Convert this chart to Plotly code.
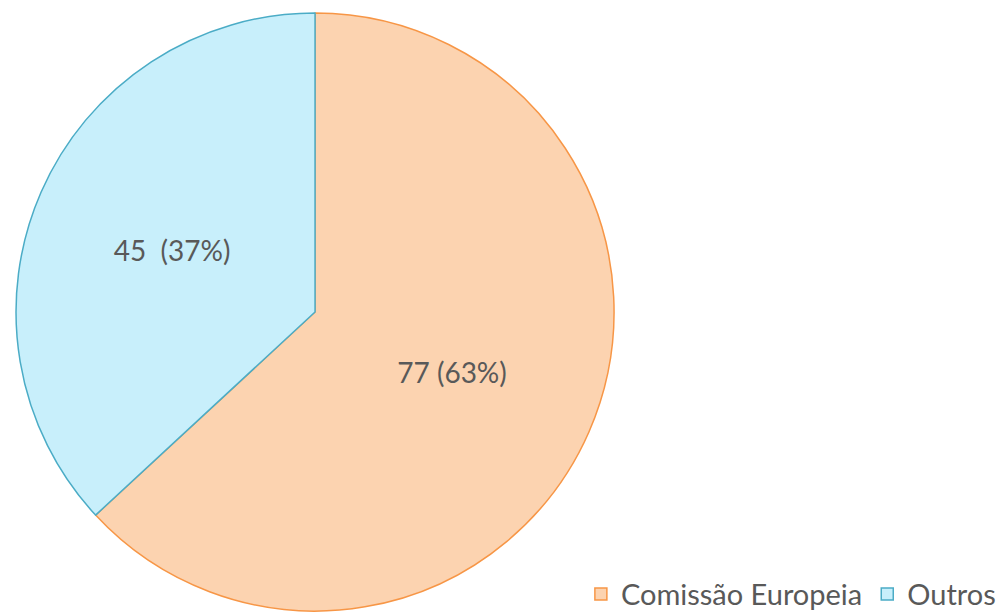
import plotly.graph_objects as go

labels = ["Comissão Europeia", "Outros"]
values = [77, 45]
pct_text = ["77 (63%)", "45  (37%)"]

fill_colors = ["#FCD3B0", "#C8EFFB"]
line_colors = ["#F79646", "#4BACC6"]

fig = go.Figure()
fig.add_trace(
    go.Pie(
        labels=labels,
        values=values,
        text=pct_text,
        texttemplate="%{text}",
        textposition="inside",
        insidetextorientation="horizontal",
        sort=False,
        direction="clockwise",
        rotation=0,
        marker=dict(colors=fill_colors, line=dict(color=line_colors, width=1.5)),
        textfont=dict(family="Lato", size=28, color="#595959"),
        hoverinfo="label+value+percent",
        domain=dict(x=[0.0070, 0.6022], y=[0.0179, 0.9919]),
    )
)

fig.update_layout(
    width=1008,
    height=614,
    paper_bgcolor="white",
    plot_bgcolor="white",
    margin=dict(l=0, r=0, t=0, b=0, autoexpand=False),
    showlegend=True,
    legend=dict(
        orientation="h",
        x=0.985,
        xanchor="right",
        y=0.004,
        yanchor="bottom",
        font=dict(family="Lato", size=29, color="#595959"),
        itemwidth=30,
        tracegroupgap=0,
    ),
)

fig.write_html("out.html")
